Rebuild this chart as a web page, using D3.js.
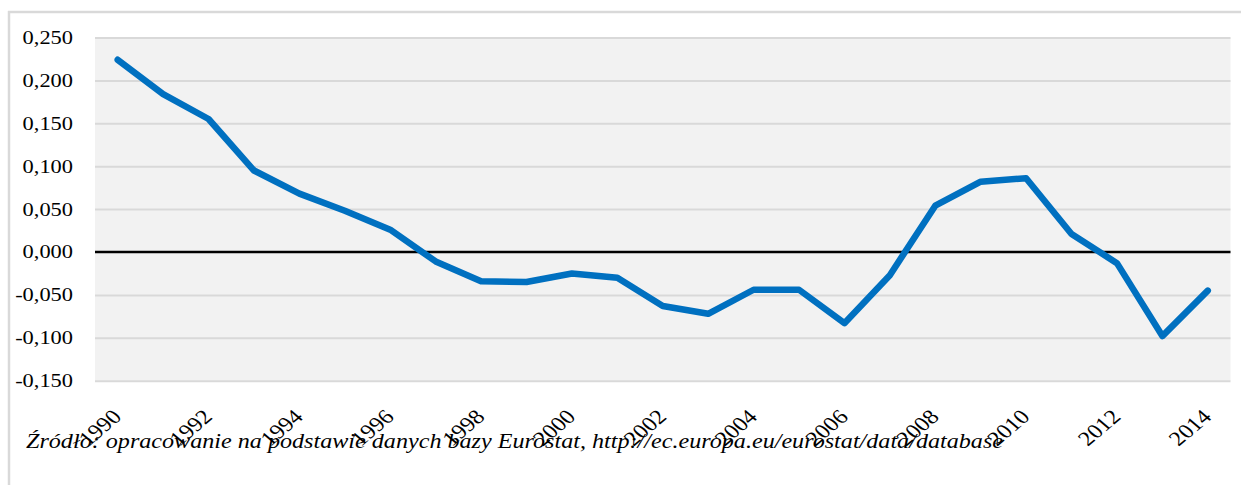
<!DOCTYPE html>
<html lang="pl">
<head>
<meta charset="utf-8">
<script src="https://cdn.jsdelivr.net/npm/d3@7"></script>
<style>
  html, body { margin: 0; padding: 0; background: #ffffff; }
  svg { display: block; }
  text { font-family: "Liberation Serif", "Times New Roman", serif; fill: #000; }
</style>
</head>
<body>
<svg id="chart" width="1241" height="485"></svg>
<script>
// Lata (oś X)
const years = [1990, 1991, 1992, 1993, 1994, 1995, 1996, 1997, 1998, 1999,
               2000, 2001, 2002, 2003, 2004, 2005, 2006, 2007, 2008, 2009,
               2010, 2011, 2012, 2013, 2014];
// Wartości wskaźnika
const values = [0.224, 0.184, 0.155, 0.095, 0.068, 0.048, 0.026, -0.011, -0.034, -0.035,
                -0.025, -0.030, -0.063, -0.072, -0.044, -0.044, -0.083, -0.027, 0.054, 0.082,
                0.086, 0.021, -0.013, -0.098, -0.045];
// Podziałka osi Y
const yTicks = [-0.15, -0.10, -0.05, 0, 0.05, 0.10, 0.15, 0.20, 0.25];
// Etykiety osi X (co drugi rok)
const xLabels = [1990, 1992, 1994, 1996, 1998, 2000, 2002, 2004, 2006, 2008, 2010, 2012, 2014];
const sourceText = "Źródło: opracowanie na podstawie danych bazy Eurostat, http://ec.europa.eu/eurostat/data/database";

const svg = d3.select("#chart");
const plot = { left: 95, right: 1230.5, top: 37.5, bottom: 380.7 };
const sx = 1.18; // szerokość czcionki

const x = d3.scaleBand().domain(years).range([plot.left, plot.right]);
const cx = d => x(d) + x.bandwidth() / 2;
const y = d3.scaleLinear().domain([-0.15, 0.25]).range([plot.bottom, plot.top]);

const pl = d3.formatLocale({ decimal: ",", thousands: " ", grouping: [3], currency: ["", " zł"], minus: "-" });
const fmt = pl.format(".3f");

// Ramka wykresu
svg.append("line").attr("x1", 9).attr("x2", 9).attr("y1", 11).attr("y2", 485)
  .attr("stroke", "#d9d9d9").attr("stroke-width", 2.5);
svg.append("line").attr("x1", 8).attr("x2", 1241).attr("y1", 12).attr("y2", 12)
  .attr("stroke", "#d9d9d9").attr("stroke-width", 2.5);

// Tło obszaru kreślenia
svg.append("rect")
  .attr("x", plot.left).attr("y", plot.top)
  .attr("width", plot.right - plot.left).attr("height", plot.bottom - plot.top)
  .attr("fill", "#f2f2f2");

// Linie siatki
const yAxis = d3.axisLeft(y).tickValues(yTicks.filter(t => t !== 0))
  .tickSize(-(plot.right - plot.left)).tickFormat("");
const grid = svg.append("g").attr("transform", `translate(${plot.left},0)`).call(yAxis);
grid.select(".domain").remove();
grid.selectAll(".tick line").attr("stroke", "#d9d9d9").attr("stroke-width", 2);

// Linia zera
svg.append("line")
  .attr("x1", plot.left).attr("x2", plot.right)
  .attr("y1", y(0)).attr("y2", y(0))
  .attr("stroke", "#000").attr("stroke-width", 2.6);

// Etykiety osi Y
svg.append("g").selectAll("text").data(yTicks).join("text")
  .attr("transform", d => `translate(73,${y(d)}) scale(${sx},1)`)
  .attr("text-anchor", "end")
  .attr("dy", "0.34em")
  .attr("font-size", 19)
  .text(d => fmt(d));

// Seria
const line = d3.line().x((d, i) => cx(years[i])).y(d => y(d));
svg.append("path")
  .datum(values)
  .attr("d", line)
  .attr("fill", "none")
  .attr("stroke", "#0070c0")
  .attr("stroke-width", 6.5)
  .attr("stroke-linejoin", "round")
  .attr("stroke-linecap", "round");

// Źródło
svg.append("text")
  .attr("x", 26).attr("y", 448)
  .attr("font-size", 21)
  .attr("font-style", "italic")
  .attr("textLength", 977)
  .attr("lengthAdjust", "spacingAndGlyphs")
  .text(sourceText);

// Etykiety osi X
svg.append("g").selectAll("text").data(xLabels).join("text")
  .attr("transform", d => `translate(${cx(d) + 5},418) scale(${sx},1) rotate(-45)`)
  .attr("text-anchor", "end")
  .attr("font-size", 20.5)
  .text(d => d);
</script>
</body>
</html>
